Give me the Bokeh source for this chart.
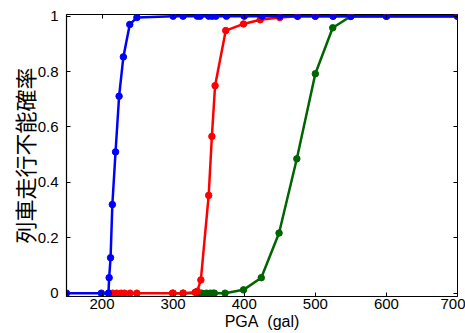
from bokeh.plotting import figure
from bokeh.models import Range1d, LinearAxis, FixedTicker, CustomJSTickFormatter
from bokeh.embed import file_html
from bokeh.resources import INLINE

# ---- data ----
blue_x = [150, 199, 209, 210, 212, 214.5, 219, 224, 230, 239, 249, 300, 314, 334, 338, 350,
          355, 360, 375, 400, 425, 450, 475, 500, 525, 550, 600, 700]
blue_y = [0, 0, 0, 0.056, 0.128, 0.32, 0.51, 0.711, 0.853, 0.97, 0.995, 1, 1, 1, 1, 1,
          1, 1, 1, 1, 1, 1, 1, 1, 1, 1, 1, 1]

red_x = [210, 215, 220.7, 226.8, 231.4, 239.4, 249, 299, 314, 331, 334, 339, 350, 354.5,
         359, 374, 399, 422.5, 450, 475, 500, 525, 550, 600, 700]
red_y = [0, 0, 0, 0, 0, 0, 0, 0, 0, 0.003, 0.007, 0.048, 0.353, 0.566,
         0.749, 0.948, 0.972, 0.987, 0.995, 1, 1, 1, 1, 1, 1]

green_x = [300, 314, 334, 340, 347, 352, 356, 358, 373, 399, 424, 449, 474, 500, 524.5,
           549.5, 600, 700]
green_y = [0, 0, 0, 0, 0, 0, 0, 0, 0, 0.012, 0.056, 0.217, 0.485, 0.792, 0.958,
           0.999, 1, 1]

x_ticks = [200, 300, 400, 500, 600, 700]
y_ticks = [0, 0.2, 0.4, 0.6, 0.8, 1]
y_tick_labels = {0: "0", 0.2: "0.2", 0.4: "0.4", 0.6: "0.6", 0.8: "0.8", 1: "1"}

x_label = "PGA\u00a0 (gal)"
y_label = "列車走行不能確率"

FONT = "Liberation Sans"

p = figure(width=465, height=333, output_backend="svg", toolbar_location=None,
           x_range=Range1d(150, 700), y_range=Range1d(-0.012, 1.006),
           min_border_left=66, min_border_right=8, min_border_top=14, min_border_bottom=37)
p.grid.visible = False
p.outline_line_color = "black"
p.outline_line_width = 1
p.background_fill_color = "white"
p.border_fill_color = "white"

for ax in (p.xaxis[0], p.yaxis[0]):
    ax.major_tick_in = 4
    ax.major_tick_out = 0
    ax.minor_tick_line_color = None
    ax.axis_line_color = "black"
    ax.axis_line_width = 1.2
    ax.major_label_text_font = FONT
    ax.major_label_text_font_size = "15px"
    ax.major_label_text_color = "black"
    ax.axis_label_text_color = "black"
    ax.axis_label_text_font_style = "normal"

p.xaxis[0].ticker = FixedTicker(ticks=x_ticks)
p.yaxis[0].ticker = FixedTicker(ticks=y_ticks)
p.yaxis[0].major_label_overrides = y_tick_labels
p.xaxis[0].major_label_standoff = 2
p.yaxis[0].major_label_standoff = 8

p.xaxis[0].axis_label = x_label
p.xaxis[0].axis_label_text_font = FONT
p.xaxis[0].axis_label_text_font_size = "16px"
p.xaxis[0].axis_label_standoff = 1

p.yaxis[0].axis_label = y_label
p.yaxis[0].axis_label_text_font = "Noto Sans CJK JP"
p.yaxis[0].axis_label_text_font_size = "22px"
p.yaxis[0].axis_label_standoff = -5

empty_fmt = CustomJSTickFormatter(code="return '';")
top_ax = LinearAxis(ticker=FixedTicker(ticks=x_ticks), formatter=empty_fmt)
right_ax = LinearAxis(ticker=FixedTicker(ticks=y_ticks), formatter=empty_fmt)
for ax in (top_ax, right_ax):
    ax.major_tick_in = 4
    ax.major_tick_out = 0
    ax.minor_tick_line_color = None
    ax.axis_line_color = None
    ax.major_label_standoff = 0
p.add_layout(top_ax, "above")
p.add_layout(right_ax, "right")

GREEN = "#006400"
p.line(green_x, green_y, line_color=GREEN, line_width=2.5)
p.scatter(green_x, green_y, size=6.5, fill_color=GREEN, line_color=GREEN)
p.line(red_x, red_y, line_color="#ff0000", line_width=2.5)
p.scatter(red_x, red_y, size=6.5, fill_color="#ff0000", line_color="#ff0000")
p.line(blue_x, blue_y, line_color="#0000ff", line_width=2.5)
p.scatter(blue_x, blue_y, size=6.5, fill_color="#0000ff", line_color="#0000ff")

open("out.html", "w").write(file_html(p, INLINE))
